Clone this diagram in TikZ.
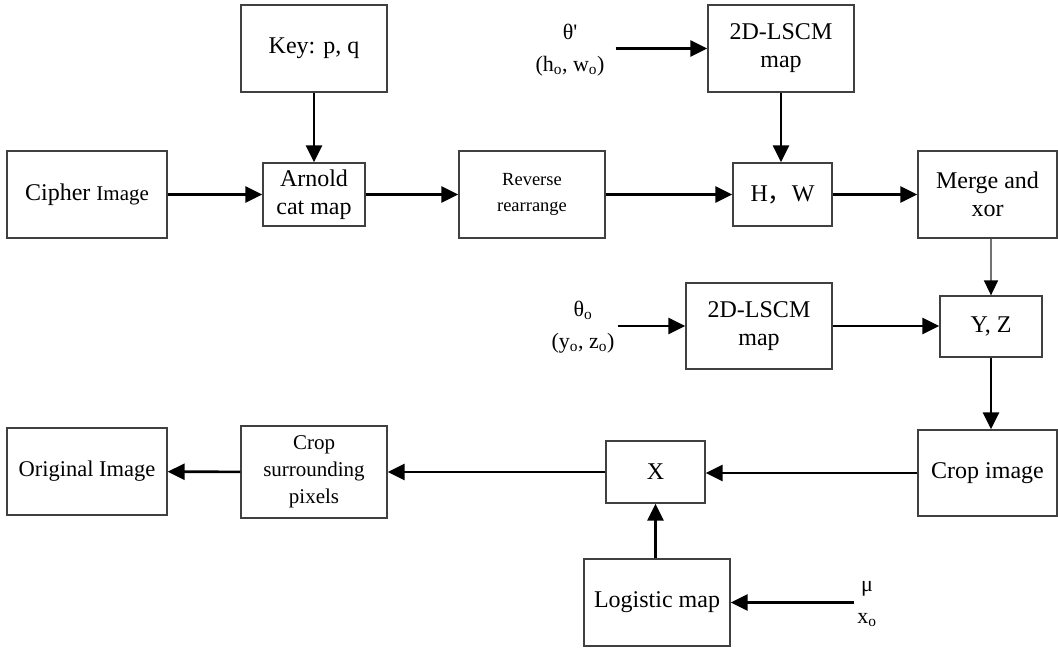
\documentclass[tikz,border=0pt]{standalone}
\usepackage{fontspec}
\setmainfont{Liberation Serif}
\newfontfamily\cjk{Noto Sans CJK SC}
\usepackage{tikz}
\usetikzlibrary{arrows.meta}

\newcommand\mainsize{\fontsize{24}{28}\selectfont}
\newcommand\midsize{\fontsize{21}{27}\selectfont}
\newcommand\smallsize{\fontsize{18.5}{26}\selectfont}

\tikzset{
  blk/.style={draw=black!75, line width=1.3pt, align=center, inner sep=0pt,
    font=\mainsize},
  param/.style={align=center, inner sep=3pt, font=\fontsize{22}{32}\selectfont},
  flow/.style={-{Triangle[length=17pt,width=16pt]}, line width=2.6pt},
  thin flow/.style={-{Triangle[length=15pt,width=14pt,fill=black,color=black]},
    line width=1.5pt, black!55}
}

\begin{document}
\begin{tikzpicture}[x=1pt, y=-1pt]
    \useasboundingbox (0,0) rectangle (1058,649);

    % top row
    \node[blk, minimum width=146, minimum height=87] (key) at (314,48.5) {Key: p, q};
    \node[blk, minimum width=160, minimum height=87] (cipher) at (87,194.5)
      {Cipher {\midsize Image}};
    \node[blk, minimum width=102, minimum height=63] (arnold) at (314,194.5)
      {Arnold\\cat map};
    \node[blk, minimum width=146, minimum height=87, font=\smallsize] (reverse) at (532,194.5)
      {Reverse\\rearrange};
    \node[param] (pa) at (570,50) {θ\textquotesingle\\(h\textsubscript{o}, w\textsubscript{o})};
    \node[blk, minimum width=146, minimum height=87] (lscma) at (781,48.5)
      {2D-LSCM\\map};
    \node[blk, minimum width=99, minimum height=63] (hw) at (782.5,194.5)
      {H{\cjk ，}W};
    \node[blk, minimum width=139, minimum height=87] (merge) at (987.5,194.5)
      {Merge and\\xor};

    % middle row
    \node[param] (pb) at (583,327) {θ\textsubscript{o}\\(y\textsubscript{o}, z\textsubscript{o})};
    \node[blk, minimum width=146, minimum height=86] (lscmb) at (759,326)
      {2D-LSCM\\map};
    \node[blk, minimum width=102, minimum height=61] (yz) at (991,326.5) {Y, Z};

    % bottom rows
    \node[blk, minimum width=139, minimum height=86] (crop) at (987.5,473) {Crop image};
    \node[blk, minimum width=99, minimum height=62] (xx) at (655.5,472) {X};
    \node[blk, minimum width=146, minimum height=92, font=\midsize] (cropsur) at (314,472)
      {Crop\\surrounding\\pixels};
    \node[blk, minimum width=160, minimum height=87, font=\fontsize{22.5}{27}\selectfont] (orig)
      at (87,471.5) {Original Image};
    \node[blk, minimum width=146, minimum height=87] (logistic) at (657,602.5) {Logistic map};
    \node[param] (pc) at (867,604) {μ\\x\textsubscript{o}};

    % connectors
    \draw[flow] (key) -- (arnold);
    \draw[flow] (cipher) -- (arnold);
    \draw[flow] (arnold) -- (reverse);
    \draw[flow] (reverse) -- (hw);
    \draw[flow] (pa.east |- lscma.west) ++(8,0) -- (lscma.west);
    \draw[flow] (lscma.south) -- (lscma.south |- hw.north);
    \draw[flow] (hw) -- (merge);
    \draw[thin flow] (merge.south -| yz.north) -- (yz.north);
    \draw[flow] (pb.east |- lscmb.west) -- (lscmb.west);
    \draw[flow] (lscmb.east) -- (lscmb.east -| yz.west);
    \draw[flow] (yz) -- (yz.south |- crop.north);
    \draw[flow] (crop.west) -- (crop.west -| xx.east);
    \draw[flow] (xx) -- (cropsur);
    \draw[flow] (cropsur) -- (orig);
    \draw[flow] (logistic.north -| xx.south) -- (xx.south);
    \draw[flow] (pc.west |- logistic.east) -- (logistic.east);
\end{tikzpicture}
\end{document}
